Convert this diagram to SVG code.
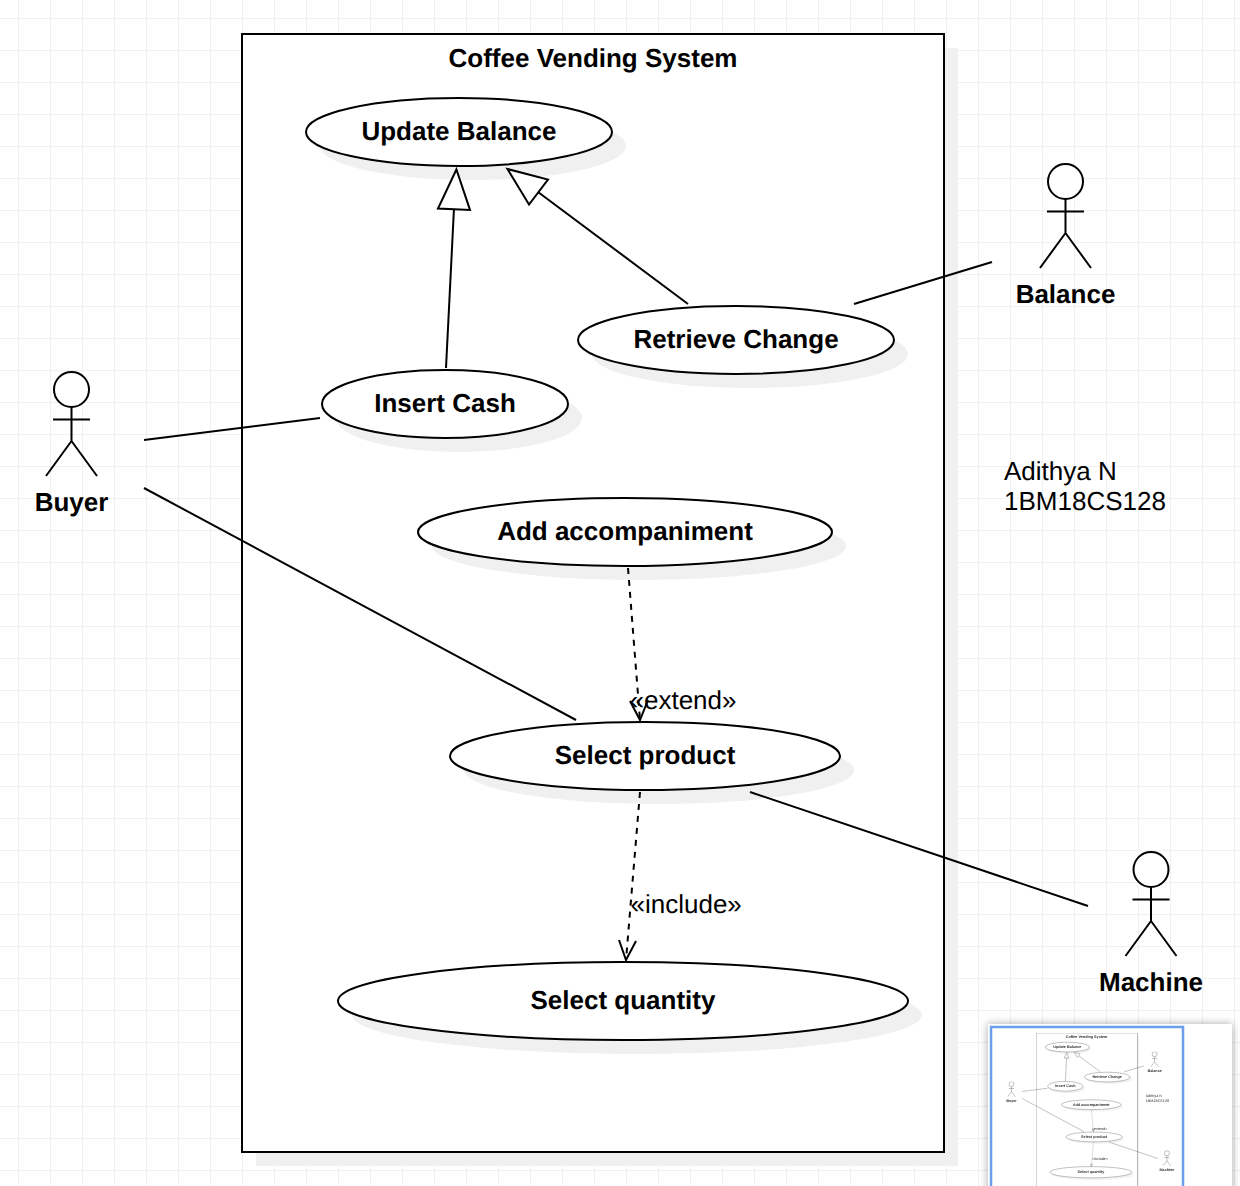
<svg xmlns="http://www.w3.org/2000/svg" width="1240" height="1186" viewBox="0 0 1240 1186">
<style>
text{font-family:"Liberation Sans",Arial,sans-serif;font-size:26px;fill:#000;text-anchor:middle;text-rendering:geometricPrecision}
.b{font-weight:bold}
.l{text-anchor:start}
.s{fill:#f0f0f0;stroke:none}
.n{fill:#fff;stroke:#000;stroke-width:2}
.c{fill:none;stroke:#000;stroke-width:2}
.d{stroke-dasharray:6 6}
.t{fill:#fff;stroke:#000;stroke-width:2}
</style>
<defs>
<pattern id="gp" width="32" height="32" patternUnits="userSpaceOnUse" x="18" y="18">
<path d="M0 0H32M0 0V32" stroke="#f0f0f0" stroke-width="2" fill="none"/>
</pattern>
<filter id="panelShadow" x="-10%" y="-10%" width="120%" height="120%"><feDropShadow dx="0" dy="0" stdDeviation="4" flood-color="#000" flood-opacity="0.35"/></filter>
<filter id="soft" x="-2%" y="-2%" width="104%" height="104%"><feGaussianBlur stdDeviation="2.5"/></filter>
<clipPath id="mini"><rect x="970" y="1010" width="270" height="176"/></clipPath>
<g id="actor"><circle cx="0" cy="-34.500" r="17.500" class="n"/><path class="c" d="M0 -17V17M-18.500 -4.500H18.500M0 17L-25.500 52M0 17L25.500 52"/></g>
</defs>
<rect width="1240" height="1186" fill="#fff"/>
<rect width="1240" height="1186" fill="url(#gp)"/>
<g id="diagram">
<g id="system">
<rect class="s" x="256" y="48" width="702" height="1118"/>
<rect class="n" x="242" y="34" width="702" height="1118"/>
<text class="b" x="593" y="67">Coffee Vending System</text>
</g>
<g id="update-balance"><ellipse class="s" cx="473" cy="146" rx="153" ry="34"/><ellipse class="n" cx="459" cy="132" rx="153" ry="34"/><text class="b" x="459" y="140">Update Balance</text></g>
<g id="retrieve-change"><ellipse class="s" cx="750" cy="354" rx="158" ry="34"/><ellipse class="n" cx="736" cy="340" rx="158" ry="34"/><text class="b" x="736" y="348">Retrieve Change</text></g>
<g id="insert-cash"><ellipse class="s" cx="459" cy="418" rx="123" ry="34"/><ellipse class="n" cx="445" cy="404" rx="123" ry="34"/><text class="b" x="445" y="412">Insert Cash</text></g>
<g id="add-accompaniment"><ellipse class="s" cx="639" cy="546" rx="207" ry="34"/><ellipse class="n" cx="625" cy="532" rx="207" ry="34"/><text class="b" x="625" y="540">Add accompaniment</text></g>
<g id="select-product"><ellipse class="s" cx="659" cy="770" rx="195" ry="34"/><ellipse class="n" cx="645" cy="756" rx="195" ry="34"/><text class="b" x="645" y="764">Select product</text></g>
<g id="select-quantity"><ellipse class="s" cx="637" cy="1015" rx="285" ry="39"/><ellipse class="n" cx="623" cy="1001" rx="285" ry="39"/><text class="b" x="623" y="1009">Select quantity</text></g>
<g id="buyer"><use href="#actor" x="71.500" y="424"/><text class="b" x="71.500" y="511">Buyer</text></g>
<g id="balance"><use href="#actor" x="1065.500" y="216"/><text class="b" x="1065.500" y="303">Balance</text></g>
<g id="machine"><use href="#actor" x="1151" y="904"/><text class="b" x="1151" y="991">Machine</text></g>
<g id="author"><text class="l" x="1004" y="480">Adithya N</text><text class="l" x="1004" y="510">1BM18CS128</text></g>
<g id="connectors">
<path class="c" d="M446 368L454 208"/>
<path class="t" d="M456.400 169.500L438 208.500L470 210Z"/>
<path class="c" d="M688 304L538 192"/>
<path class="t" d="M507.500 169L529 204.500L548 179.500Z"/>
<path class="c" d="M144 440L320 418"/>
<path class="c" d="M854 304L992 262"/>
<path class="c" d="M144 488L576 720"/>
<path class="c" d="M750 792L1088 906"/>
<path class="c d" d="M628 568L640 720"/>
<path class="c" d="M630 701L640 720L648 700"/>
<text class="l" x="629.500" y="709">«extend»</text>
<path class="c d" d="M640 792L626 960"/>
<path class="c" d="M619 940L626 960L636 941"/>
<text class="l" x="630.500" y="913">«include»</text>
</g>
</g>
<g id="minimap" clip-path="url(#mini)">
<rect x="988" y="1024" width="244" height="200" fill="#fff" filter="url(#panelShadow)"/>
<use href="#diagram" transform="translate(1001.200 1028.100) scale(0.144)" opacity="0.85" filter="url(#soft)"/>
<rect x="991" y="1027" width="192" height="180" fill="none" stroke="#6d9eeb" stroke-width="2.500"/>
</g>
</svg>
